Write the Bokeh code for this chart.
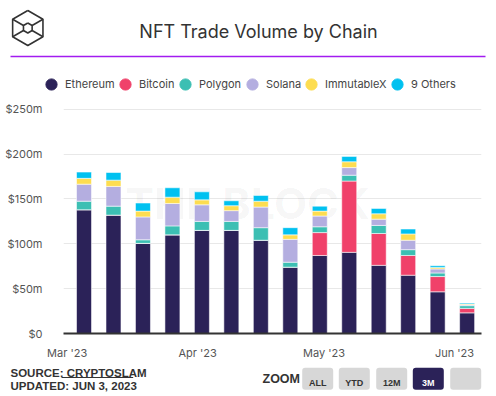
from datetime import datetime
from bokeh.plotting import figure
from bokeh.layouts import column
from bokeh.models import (Range1d, FixedTicker, Label, BoxAnnotation,
                          Legend, LegendItem, ColumnDataSource)
from bokeh.embed import file_html
from bokeh.resources import INLINE
import math

# ---------------- data ----------------
weeks = ["2023-03-05", "2023-03-12", "2023-03-19", "2023-03-26", "2023-04-02", "2023-04-09",
         "2023-04-16", "2023-04-23", "2023-04-30", "2023-05-07", "2023-05-14", "2023-05-21",
         "2023-05-28", "2023-06-04"]
series_names = ["Ethereum", "Bitcoin", "Polygon", "Solana", "ImmutableX", "9 Others"]
ethereum   = [138, 132, 100.5, 110, 115, 115, 104, 74, 87, 90.5, 76, 65, 46.5, 23]
bitcoin    = [0, 0, 0, 0, 0, 0, 0, 0, 25.5, 79.5, 35.5, 22, 17, 5]
polygon    = [9.5, 10, 4, 10, 10, 10, 14, 5.5, 6.5, 6.5, 9, 6.5, 4, 3]
solana     = [19, 22, 25.5, 25, 18.5, 12, 23, 25.5, 12, 8.5, 7, 10.5, 4.5, 1]
immutablex = [6.5, 7, 6.5, 7, 5.5, 5.5, 6.5, 5, 5.5, 6.5, 6, 7, 1.5, 1]
others     = [7, 8.5, 9, 10.5, 9, 5.5, 6.5, 8, 5.5, 6, 6, 5.5, 2, 1]
colors = ["#2b2258", "#f0416a", "#3cbfb3", "#b4aee0", "#fddd50", "#00c1f0"]

x_tick_dates = ["2023-03-01", "2023-04-01", "2023-05-01", "2023-06-01"]
x_tick_labels = ["Mar '23", "Apr '23", "May '23", "Jun '23"]
y_ticks = [0, 50, 100, 150, 200, 250]
y_tick_labels = ["$0", "$50m", "$100m", "$150m", "$200m", "$250m"]

btn_labels = ["ALL", "YTD", "12M", "3M", ""]
btn_active = [False, False, False, True, False]

FONT = "Inter"
BOLD = "Liberation Sans"
W = 488

# ---------------- helpers ----------------
def blank(h):
    f = figure(width=W, height=h, x_range=Range1d(0, W), y_range=Range1d(0, h),
               output_backend="svg", toolbar_location=None,
               x_axis_location=None, y_axis_location=None,
               min_border_left=0, min_border_right=0, min_border_top=0, min_border_bottom=0)
    f.outline_line_color = None
    f.xgrid.visible = False
    f.ygrid.visible = False
    f.frame_align = False
    return f

S = dict(left_units="screen", right_units="screen", top_units="screen", bottom_units="screen")

# ================= header (page y 0..100) =================
hdr = blank(100)
HX = lambda rx: rx
HY = lambda ry: 100 - ry

hdr.add_layout(Label(x=HX(258), y=HY(31), x_units="screen", y_units="screen",
                     text="NFT Trade Volume by Chain", text_align="center",
                     text_baseline="middle", text_font=FONT, text_font_size="18px",
                     text_color="#333333"))
hdr.add_layout(BoxAnnotation(left=HX(10), right=HX(485), top=HY(55.3), bottom=HY(56.8),
                             fill_color="#a21cf0", fill_alpha=1, line_alpha=0, **S))

# logo (header frame is 1:1 with pixels)
cx, cy, R, r = 27.3, 27.5, 17.5, 5.0
def hexpts(cx, cy, R):
    pts = []
    for k in range(7):
        a = math.radians(90 + 60 * k)
        pts.append((cx + R * math.cos(a), cy - R * math.sin(a)))
    return pts
outer = hexpts(cx, cy, R)
inner = hexpts(cx, cy, r)
lx_, ly_ = [], []
for pts in (outer, inner):
    lx_.append([HX(a) for a, b in pts])
    ly_.append([HY(b) for a, b in pts])
for k in [1, 2, 4, 5]:
    lx_.append([HX(outer[k][0]), HX(inner[k][0])])
    ly_.append([HY(outer[k][1]), HY(inner[k][1])])
hdr.multi_line(xs=lx_, ys=ly_, line_color="#333333", line_width=1.6)

# legend: one legend per item so each sits at its own spot
leg_cx = [51, 125, 185, 252, 311, 397]
for name, col, lx in zip(series_names, colors, leg_cx):
    r_ = hdr.scatter(x=[-1000], y=[-1000], marker="circle", fill_color=col, line_color=col)
    lg = Legend(items=[LegendItem(label=name, renderers=[r_])],
                location=(HX(lx - 14), HY(84 + 14)), orientation="horizontal",
                glyph_width=28, glyph_height=28, label_standoff=0, padding=0, margin=0,
                spacing=0, border_line_alpha=0, background_fill_alpha=0,
                label_text_font=FONT, label_text_font_size="11px",
                label_text_color="#444444")
    hdr.add_layout(lg)

# ================= main chart (page y 100..362) =================
dates = [datetime.strptime(d, "%Y-%m-%d") for d in weeks]
src = ColumnDataSource(dict(x=dates, **{n: v for n, v in zip(
    series_names, [ethereum, bitcoin, polygon, solana, immutablex, others])}))

epoch = datetime(1970, 1, 1)
def ms(d):
    return (d - epoch).total_seconds() * 1000.0

p = figure(width=W, height=262, x_axis_type="datetime",
           x_range=Range1d(datetime(2023, 2, 28, 3), datetime(2023, 6, 7, 10)),
           y_range=Range1d(0, 252),
           output_backend="svg", toolbar_location=None,
           min_border_left=63, min_border_right=W - 481, min_border_top=7,
           min_border_bottom=28)
p.outline_line_color = None
p.frame_align = False

# watermark (frame-relative; frame left = page x 63, bottom = page y 334)
p.add_layout(Label(x=247 - 63, y=334 - 203, x_units="screen", y_units="screen",
                   text="THE BLOCK", text_align="center", text_baseline="middle",
                   text_font=FONT, text_font_style="bold", text_font_size="43px",
                   text_color="#000000", text_alpha=0.045, level="underlay"))

bar_w = 3.56 * 86400000
p.vbar_stack(series_names, x="x", width=bar_w, source=src, color=colors,
             line_color="white", line_alpha=0.55, line_width=1)

xt = [ms(datetime.strptime(d, "%Y-%m-%d")) for d in x_tick_dates]
p.xaxis.ticker = FixedTicker(ticks=xt)
p.xaxis.major_label_overrides = {t: l for t, l in zip(xt, x_tick_labels)}
p.xaxis.axis_line_color = "#333333"
p.xaxis.axis_line_width = 2
p.xaxis.major_tick_line_color = None
p.xaxis.minor_tick_line_color = None
p.xaxis.major_label_standoff = 6
p.xaxis.major_label_text_font = FONT
p.xaxis.major_label_text_font_size = "11px"
p.xaxis.major_label_text_color = "#555555"

p.yaxis.ticker = FixedTicker(ticks=y_ticks)
p.yaxis.major_label_overrides = {t: l for t, l in zip(y_ticks, y_tick_labels)}
p.yaxis.axis_line_color = None
p.yaxis.major_tick_line_color = None
p.yaxis.minor_tick_line_color = None
p.yaxis.major_label_standoff = 15
p.yaxis.major_label_text_font = FONT
p.yaxis.major_label_text_font_size = "11px"
p.yaxis.major_label_text_color = "#555555"

p.xgrid.grid_line_color = None
p.ygrid.grid_line_color = "#e8e8e8"
p.ygrid.grid_line_width = 1

# ================= footer (page y 362..392) =================
ftr = blank(30)
FX = lambda rx: rx
FY = lambda ry: 392 - ry

ftr.add_layout(Label(x=FX(10), y=FY(372.3), x_units="screen", y_units="screen",
                     text="SOURCE: CRYPTOSLAM", text_baseline="middle",
                     text_font=BOLD, text_font_style="bold", text_font_size="11.5px",
                     text_color="#333333"))
ftr.add_layout(Label(x=FX(10), y=FY(385), x_units="screen", y_units="screen",
                     text="UPDATED: JUN 3, 2023", text_baseline="middle",
                     text_font=BOLD, text_font_style="bold", text_font_size="11.5px",
                     text_color="#333333"))
ftr.add_layout(BoxAnnotation(left=FX(61), right=FX(132.7), top=FY(376.4), bottom=FY(377.4),
                             fill_color="#333333", fill_alpha=1, line_alpha=0, **S))
ftr.add_layout(Label(x=FX(262), y=FY(378.3), x_units="screen", y_units="screen",
                     text="ZOOM", text_baseline="middle",
                     text_font=BOLD, text_font_style="bold", text_font_size="12.5px",
                     text_color="#333333"))

btn_left = [301.7, 338.3, 375.7, 412.3, 449.7]
for bl, lab, act in zip(btn_left, btn_labels, btn_active):
    ftr.add_layout(BoxAnnotation(left=FX(bl), right=FX(bl + 31), top=FY(367.3),
                                 bottom=FY(389.3),
                                 fill_color="#2b2258" if act else "#d7d7d7", fill_alpha=1,
                                 line_alpha=0, border_radius=3, **S))
    if lab:
        ftr.add_layout(Label(x=FX(bl + 15.5), y=FY(382.3), x_units="screen", y_units="screen",
                             text=lab, text_align="center", text_baseline="middle",
                             text_font=BOLD, text_font_style="bold", text_font_size="9px",
                             text_color="white" if act else "#333333"))

layout = column(hdr, p, ftr, spacing=0)
open("out.html", "w").write(file_html(layout, INLINE))
